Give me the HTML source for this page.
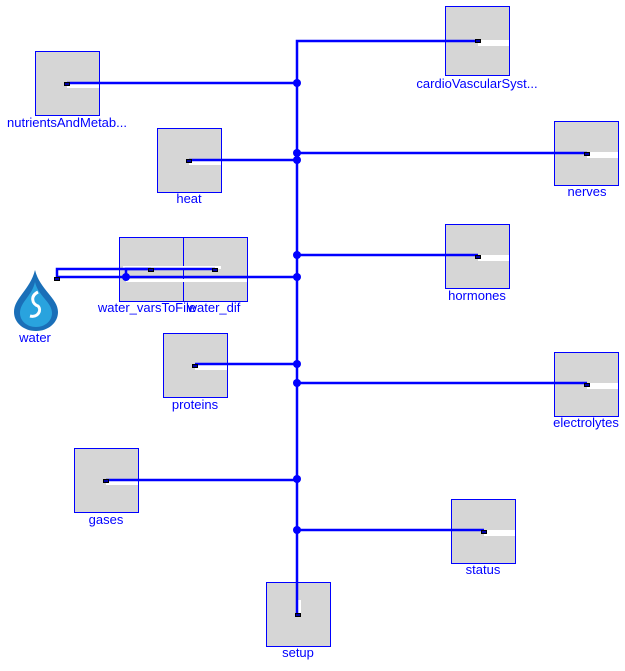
<!DOCTYPE html>
<html><head><style>
body{margin:0;background:#fff;width:625px;height:666px;overflow:hidden}
svg text{font-family:"Liberation Sans",sans-serif;font-size:13px;fill:#0000ff;text-anchor:middle}
</style></head><body>
<svg width="625" height="666" viewBox="0 0 625 666">
<g fill="#d6d6d6" stroke="#0000ff" stroke-width="1">
<rect x="445.5" y="6.5" width="64" height="69"/>
<rect x="35.5" y="51.5" width="64" height="64"/>
<rect x="157.5" y="128.5" width="64" height="64"/>
<rect x="554.5" y="121.5" width="64" height="64"/>
<rect x="445.5" y="224.5" width="64" height="64"/>
<rect x="119.5" y="237.5" width="64" height="64"/>
<rect x="183.5" y="237.5" width="64" height="64"/>
<rect x="163.5" y="333.5" width="64" height="64"/>
<rect x="554.5" y="352.5" width="64" height="64"/>
<rect x="74.5" y="448.5" width="64" height="64"/>
<rect x="451.5" y="499.5" width="64" height="64"/>
<rect x="266.5" y="582.5" width="64" height="64"/>
</g>
<g fill="#fff">
<rect x="478" y="40" width="31" height="6"/>
<rect x="67" y="82" width="32" height="6"/>
<rect x="189" y="159" width="32" height="6"/>
<rect x="587" y="152" width="31" height="6"/>
<rect x="478" y="255" width="31" height="6"/>
<rect x="123" y="266" width="98" height="3"/>
<rect x="126" y="279" width="121" height="3"/>
<rect x="195" y="364" width="32" height="6"/>
<rect x="587" y="383" width="31" height="6"/>
<rect x="106" y="479" width="32" height="6"/>
<rect x="484" y="530" width="31" height="6"/>
<rect x="296" y="600" width="5" height="14"/>
</g>
<g stroke="#0000ff" stroke-width="2.5" fill="none">
<path d="M297 614V41H478"/>
<path d="M67 83H297"/>
<path d="M189 160H297"/>
<path d="M297 153H587"/>
<path d="M297 255H478"/>
<path d="M57 277H297"/>
<path d="M57 278V269H151"/>
<path d="M126 277V269H215"/>
<path d="M195 364H297"/>
<path d="M297 383H587"/>
<path d="M106 480H297"/>
<path d="M297 530H484"/>
</g>
<g fill="#0000ff">
<circle cx="297" cy="83" r="4"/><circle cx="297" cy="153" r="4"/><circle cx="297" cy="160" r="4"/>
<circle cx="297" cy="255" r="4"/><circle cx="297" cy="277" r="4"/><circle cx="126" cy="277" r="4"/>
<circle cx="297" cy="364" r="4"/><circle cx="297" cy="383" r="4"/><circle cx="297" cy="479" r="4"/>
<circle cx="297" cy="530" r="4"/>
</g>
<g fill="#0000aa" stroke="#000" stroke-width="1">
<rect x="475.5" y="39.5" width="5" height="3"/>
<rect x="64.5" y="82.5" width="5" height="3"/>
<rect x="186.5" y="159.5" width="5" height="3"/>
<rect x="584.5" y="152.5" width="5" height="3"/>
<rect x="475.5" y="255.5" width="5" height="3"/>
<rect x="148.5" y="268.5" width="5" height="3"/>
<rect x="212.5" y="268.5" width="5" height="3"/>
<rect x="54.5" y="277.5" width="5" height="3"/>
<rect x="192.5" y="364.5" width="5" height="3"/>
<rect x="584.5" y="383.5" width="5" height="3"/>
<rect x="103.5" y="479.5" width="5" height="3"/>
<rect x="481.5" y="530.5" width="5" height="3"/>
<rect x="295.5" y="613.5" width="5" height="3"/>
</g>
<path d="M35 270 C30 290 14 298 14 312 C14 323 24 331 36 331 C48 331 58 323 58 312 C58 298 40 290 35 270Z" fill="#1a6fb8"/>
<path d="M35 282 C32 296 20 302 20 313 C20 321 27 327 36 327 C45 327 52 321 52 313 C52 302 38 296 35 282Z" fill="#29a3de"/>
<path d="M38 292 C30 296 32 304 38 306 C42 310 38 318 30 316" stroke="#fff" stroke-width="3" fill="none"/>
<text x="477" y="88">cardioVascularSyst...</text>
<text x="67" y="127">nutrientsAndMetab...</text>
<text x="189" y="203">heat</text>
<text x="587" y="196">nerves</text>
<text x="477" y="300">hormones</text>
<text x="147" y="312">water_varsToFile</text>
<text x="214" y="312">water_dif</text>
<text x="35" y="342">water</text>
<text x="195" y="409">proteins</text>
<text x="586" y="427">electrolytes</text>
<text x="106" y="524">gases</text>
<text x="483" y="574">status</text>
<text x="298" y="657">setup</text>
</svg>
</body></html>
